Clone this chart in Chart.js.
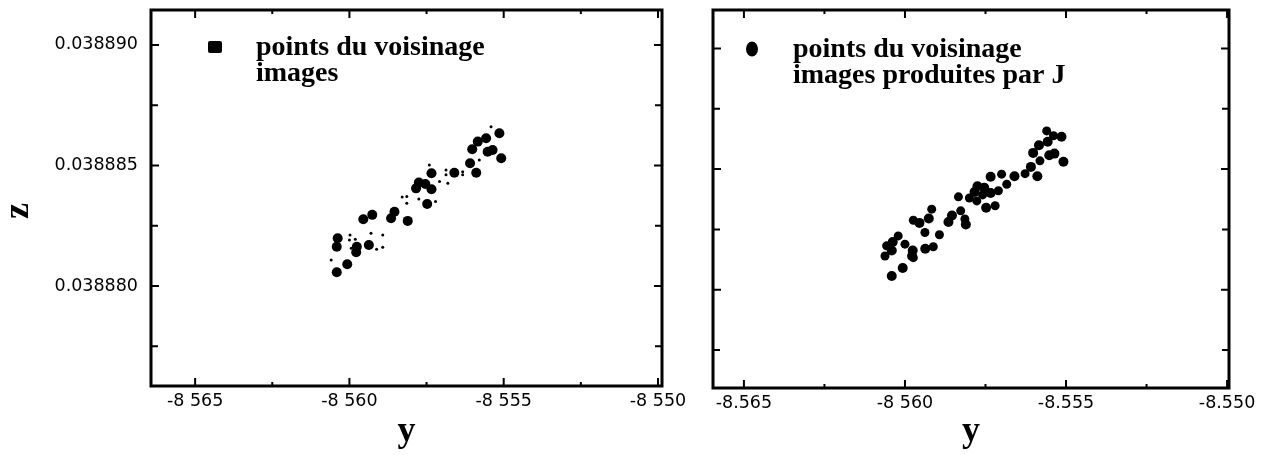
<!DOCTYPE html>
<html>
<head>
<meta charset="utf-8">
<script src="https://cdn.jsdelivr.net/npm/chart.js@4.4.1/dist/chart.umd.min.js"></script>
<style>
  body { margin: 0; background: #fff; }
  canvas { position: absolute; top: 0; }
  #left { left: 0; }
  #right { left: 700px; }
</style>
</head>
<body>
<canvas id="left" width="700" height="455"></canvas>
<canvas id="right" width="575" height="455"></canvas>
<script>
// ticks: "y" is the horizontal axis, "z" the vertical one
const yTicks = [-8.565, -8.560, -8.555, -8.550];
const yMinor = [-8.5625, -8.5575, -8.5525];
const yLabelsLeft = ["-8 565", "-8 560", "-8 555", "-8 550"];
const yLabelsRight = ["-8.565", "-8 560", "-8.555", "-8.550"];
const zTicks = [0.038880, 0.038885, 0.038890];
const zMinor = [0.0388775, 0.0388825, 0.0388875];
const zLabels = ["0.038880", "0.038885", "0.038890"];

// points du voisinage (same in both panels)
const voisinY = [-8.56041, -8.56007, -8.56038, -8.56041, -8.55978, -8.55976, -8.55937,
  -8.55955, -8.55926, -8.55865, -8.55854, -8.55811, -8.55748, -8.55775, -8.55754,
  -8.55784, -8.55734, -8.55734, -8.55660, -8.55609, -8.55589, -8.55602, -8.55584,
  -8.55557, -8.55552, -8.55508, -8.55514, -8.55536];
const voisinZ = [0.03888057, 0.03888090, 0.03888198, 0.03888163, 0.03888140, 0.03888163, 0.03888170,
  0.03888277, 0.03888295, 0.03888281, 0.03888308, 0.03888270, 0.03888340, 0.03888429, 0.03888423,
  0.03888405, 0.03888401, 0.03888468, 0.03888470, 0.03888509, 0.03888470, 0.03888567, 0.03888599,
  0.03888613, 0.03888557, 0.03888530, 0.03888634, 0.03888564];

// images (left panel, small dots)
const imagesY = [-8.55741, -8.55687, -8.55687, -8.55633, -8.55681, -8.55708, -8.55814, -8.55829,
  -8.55814, -8.55775, -8.55721, -8.55998, -8.56000, -8.55981, -8.55930, -8.55892, -8.55892,
  -8.55912, -8.55994, -8.55541, -8.56059, -8.55579, -8.55633];
const imagesZ = [0.03888502, 0.03888481, 0.03888461, 0.03888474, 0.03888426, 0.03888433, 0.03888371, 0.03888369,
  0.03888343, 0.03888361, 0.03888350, 0.03888212, 0.03888191, 0.03888194, 0.03888219, 0.03888212, 0.03888161,
  0.03888152, 0.03888156, 0.03888661, 0.03888108, 0.03888523, 0.03888461];

// images produites par J (right panel)
const imagesJY = [-8.56062, -8.56057, -8.56021, -8.56000, -8.55974, -8.55912, -8.55938, -8.55893,
  -8.55917, -8.55974, -8.55814, -8.55827, -8.55834, -8.55800, -8.55710, -8.55684, -8.55720,
  -8.55700, -8.55627, -8.55581, -8.55539, -8.55560, -8.55759, -8.55777];
const imagesJZ = [0.03888140, 0.03888182, 0.03888223, 0.03888189, 0.03888133, 0.03888178, 0.03888237, 0.03888228,
  0.03888334, 0.03888288, 0.03888293, 0.03888327, 0.03888385, 0.03888380, 0.03888410, 0.03888437, 0.03888348,
  0.03888479, 0.03888481, 0.03888534, 0.03888638, 0.03888658, 0.03888393, 0.03888368];

const toPoints = (ys, zs) => ys.map((v, i) => ({ x: v, y: zs[i] }));

// frame, inward ticks, legend and the rotated z title
const framePlugin = {
  id: "frame",
  afterDraw(chart, args, opts) {
    const { ctx, chartArea: a } = chart;
    const xs = chart.scales.x, zs = chart.scales.y;
    ctx.save();
    ctx.strokeStyle = "#000";
    ctx.fillStyle = "#000";

    ctx.lineWidth = 2;
    ctx.beginPath();
    const vTick = (v, len) => {
      const p = xs.getPixelForValue(v);
      ctx.moveTo(p, a.bottom); ctx.lineTo(p, a.bottom - len);
      ctx.moveTo(p, a.top); ctx.lineTo(p, a.top + len);
    };
    const hTick = (v, len) => {
      const p = zs.getPixelForValue(v);
      ctx.moveTo(a.left, p); ctx.lineTo(a.left + len, p);
      ctx.moveTo(a.right, p); ctx.lineTo(a.right - len, p);
    };
    yTicks.forEach(v => vTick(v, 8));
    yMinor.forEach(v => vTick(v, 4));
    zTicks.forEach(v => hTick(v, 8));
    zMinor.forEach(v => hTick(v, 7));
    ctx.stroke();

    ctx.lineWidth = 3;
    ctx.strokeRect(a.left, a.top, a.right - a.left, a.bottom - a.top);

    // legend
    const lg = opts.legend;
    ctx.beginPath();
    if (lg.marker === "square") {
      ctx.roundRect(lg.mx - 7, lg.my - 6, 14, 12, 2);
    } else {
      ctx.ellipse(lg.mx, lg.my, 6, 7.5, 0, 0, Math.PI * 2);
    }
    ctx.fill();
    ctx.font = "bold 28px 'Liberation Serif'";
    ctx.textBaseline = "alphabetic";
    ctx.textAlign = "left";
    lg.lines.forEach((t, i) => ctx.fillText(t, lg.tx, lg.ty + i * 26));

    if (opts.zTitle) {
      ctx.translate(opts.zTitle.x, opts.zTitle.y);
      ctx.rotate(-Math.PI / 2);
      ctx.font = "bold 36px 'Liberation Serif'";
      ctx.textAlign = "center";
      ctx.fillText("z", 0, 0);
    }
    ctx.restore();
  }
};

function makePanel(id, cfg) {
  return new Chart(document.getElementById(id), {
    type: "scatter",
    data: { datasets: cfg.datasets },
    options: {
      responsive: false,
      animation: false,
      events: [],
      layout: { padding: { top: 10, right: cfg.padRight, left: 0, bottom: 0 } },
      plugins: {
        legend: { display: false },
        tooltip: { enabled: false },
        frame: { legend: cfg.legend, zTitle: cfg.zTitle }
      },
      scales: {
        x: {
          type: "linear",
          min: cfg.xMin, max: cfg.xMax,
          grid: { display: false, drawTicks: false },
          border: { display: false },
          afterBuildTicks: s => { s.ticks = yTicks.map(v => ({ value: v })); },
          afterFit: s => { s.height = cfg.xHeight; s.paddingLeft = 0; s.paddingRight = 0; },
          ticks: {
            padding: 5,
            color: "#000",
            font: { family: "DejaVu Sans", size: 17.5 },
            maxRotation: 0,
            autoSkip: false,
            callback: (v, i) => cfg.xLabels[i]
          },
          title: {
            display: true,
            text: "y",
            color: "#000",
            font: { family: "Liberation Serif", size: 36, weight: "bold" },
            padding: { top: 0, bottom: 2 }
          }
        },
        y: {
          type: "linear",
          min: cfg.zMin, max: cfg.zMax,
          grid: { display: false, drawTicks: false },
          border: { display: false },
          afterBuildTicks: s => { s.ticks = zTicks.map(v => ({ value: v })); },
          afterFit: s => { s.width = cfg.yWidth; s.paddingTop = 0; s.paddingBottom = 0; },
          ticks: {
            display: cfg.showZLabels,
            padding: 13,
            color: "#000",
            font: { family: "DejaVu Sans", size: 17.5 },
            autoSkip: false,
            callback: (v, i) => zLabels[i]
          }
        }
      }
    },
    plugins: [framePlugin]
  });
}

makePanel("left", {
  datasets: [
    { label: "points du voisinage", data: toPoints(voisinY, voisinZ),
      pointRadius: 5, pointBorderWidth: 0, backgroundColor: "#000" },
    { label: "images", data: toPoints(imagesY, imagesZ),
      pointRadius: 1.5, pointBorderWidth: 0, backgroundColor: "#000" }
  ],
  xMin: -8.56643, xMax: -8.54987,
  zMin: 0.03887585, zMax: 0.03889145,
  xLabels: yLabelsLeft,
  showZLabels: true,
  yWidth: 151, xHeight: 69, padRight: 38,
  legend: { marker: "square", mx: 215, my: 47, tx: 256, ty: 55,
    lines: ["points du voisinage", "images"] },
  zTitle: { x: 28, y: 211 }
});

makePanel("right", {
  datasets: [
    { label: "points du voisinage", data: toPoints(voisinY, voisinZ),
      pointRadius: 5, pointBorderWidth: 0, backgroundColor: "#000" },
    { label: "images produites par J", data: toPoints(imagesJY, imagesJZ),
      pointRadius: 4.5, pointBorderWidth: 0, backgroundColor: "#000" }
  ],
  xMin: -8.56596, xMax: -8.54994,
  zMin: 0.03887593, zMax: 0.03889159,
  xLabels: yLabelsRight,
  showZLabels: false,
  yWidth: 13, xHeight: 67, padRight: 46,
  legend: { marker: "oval", mx: 52, my: 49, tx: 93, ty: 57,
    lines: ["points du voisinage", "images produites par J"] },
  zTitle: null
});
</script>
</body>
</html>
